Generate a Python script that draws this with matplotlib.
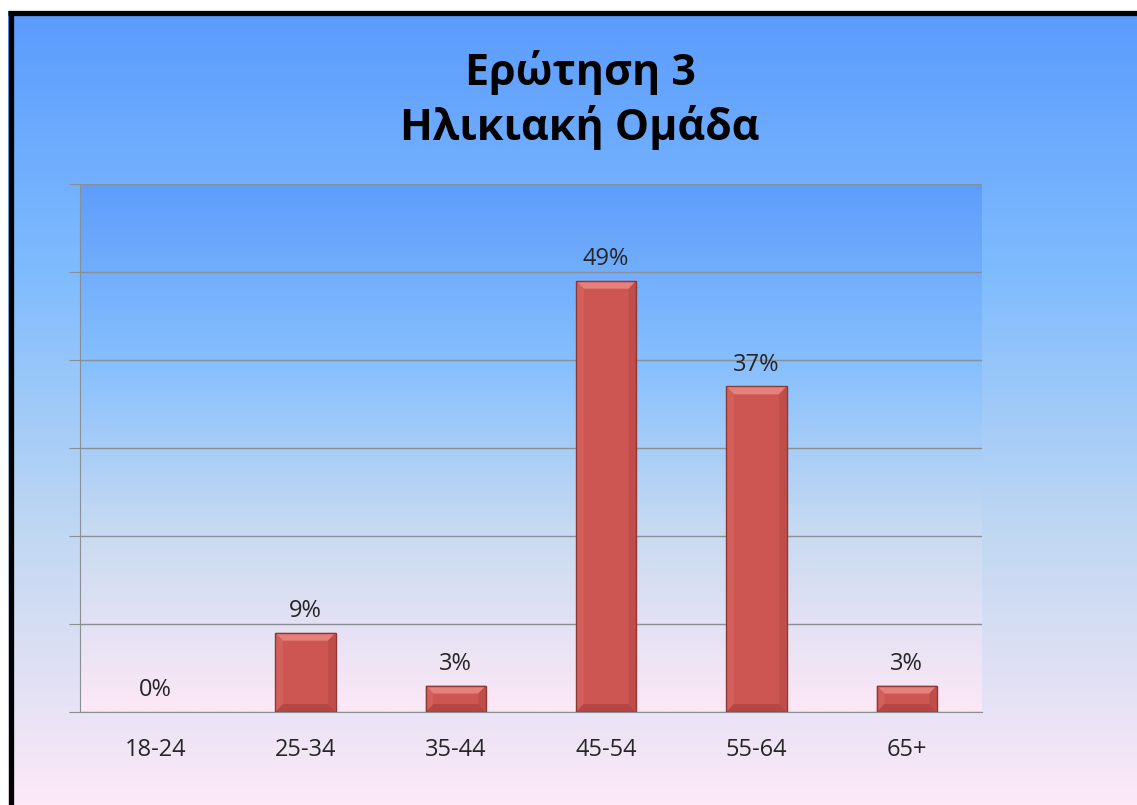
import numpy as np
import matplotlib
matplotlib.use('Agg')
import matplotlib.pyplot as plt
from matplotlib.colors import LinearSegmentedColormap
from matplotlib.patches import Polygon

plt.rcParams['font.family'] = ['Open Sans', 'DejaVu Sans']

# data
categories = ['18-24', '25-34', '35-44', '45-54', '55-64', '65+']
values = [0, 9, 3, 49, 37, 3]
title_lines = ['Ερώτηση 3', 'Ηλικιακή Ομάδα']

W, H = 1137, 805
fig = plt.figure(figsize=(W / 100, H / 100), dpi=100)
fig.patch.set_facecolor('white')

# background gradient (chart area)
bg_cmap = LinearSegmentedColormap.from_list(
    'bg', ['#5b9bfd', '#7fbcfe', '#c2d8f2', '#fde9f7'])
bg = fig.add_axes([8 / W, 0, 1 - 8 / W, (H - 11) / H], zorder=0)
bg.imshow(np.linspace(0, 1, 256).reshape(-1, 1), cmap=bg_cmap, aspect='auto',
          extent=[0, 1, 0, 1], origin='upper')
bg.set_axis_off()

# black frame (top and left)
fig.add_artist(plt.Line2D([8 / W, 1], [(H - 13.5) / H] * 2, color='black',
                          lw=3.8, solid_capstyle='butt',
                          transform=fig.transFigure, zorder=5))
fig.add_artist(plt.Line2D([10.5 / W] * 2, [0, (H - 11) / H], color='black',
                          lw=3.8, solid_capstyle='butt',
                          transform=fig.transFigure, zorder=5))

# plot area
ax = fig.add_axes([80 / W, (H - 712) / H, 902 / W, 528 / H], zorder=2)
pa_cmap = LinearSegmentedColormap.from_list(
    'pa', ['#5e9dfc', '#85bffe', '#c9dbf1', '#fde8f6'])
ax.imshow(np.linspace(0, 1, 256).reshape(-1, 1), cmap=pa_cmap, aspect='auto',
          extent=[0, 1, 0, 1], origin='upper', transform=ax.transAxes, zorder=0)

x = np.arange(len(categories))
bw = 0.4
bars = ax.bar(x, values, width=bw, color='#cd5652', linewidth=0, zorder=3)

# bevel highlights
bev_x = 0.05
bev_y = 0.9
for b, v in zip(bars, values):
    if v <= 0:
        continue
    x0, x1 = b.get_x(), b.get_x() + b.get_width()
    top = b.get_height()
    by = min(bev_y, top / 2)
    ax.add_patch(Polygon([(x0, top), (x1, top), (x1 - bev_x, top - by),
                          (x0 + bev_x, top - by)], closed=True,
                         facecolor='#e4817c', edgecolor='none', zorder=4))
    ax.add_patch(Polygon([(x0, top), (x0 + bev_x, top - by),
                          (x0 + bev_x, by), (x0, 0)], closed=True,
                         facecolor='#d4605c', edgecolor='none', zorder=4))
    ax.add_patch(Polygon([(x1, top), (x1 - bev_x, top - by),
                          (x1 - bev_x, by), (x1, 0)], closed=True,
                         facecolor='#c04d4a', edgecolor='none', zorder=4))
    ax.add_patch(Polygon([(x0, 0), (x0 + bev_x, by), (x1 - bev_x, by),
                          (x1, 0)], closed=True,
                         facecolor='#b44643', edgecolor='none', zorder=4))
    ax.add_patch(plt.Rectangle((x0, 0), x1 - x0, top, fill=False,
                               edgecolor='#8c3836', lw=1.0, zorder=5))

for xi, v in zip(x, values):
    ax.annotate(f'{v}%', (xi, v), xytext=(0, 7), textcoords='offset points',
                ha='center', va='bottom', fontsize=17, color='#262626', zorder=6)

ax.set_xlim(-0.5, len(categories) - 0.5)
ax.set_ylim(0, 60)
ax.set_yticks(np.arange(0, 61, 10))
ax.yaxis.grid(True, color='#8a8f96', lw=1.0)
ax.set_axisbelow(True)
ax.tick_params(axis='y', length=8, color='#8a8f96', labelleft=False)
ax.set_xticks(x)
ax.set_xticklabels(categories, fontsize=17, color='#262626')
ax.tick_params(axis='x', length=0, pad=19)
for s in ['top', 'right']:
    ax.spines[s].set_visible(False)
for s in ['left', 'bottom']:
    ax.spines[s].set_color('#8a8f96')
ax.set_facecolor('none')

fig.text(580 / W, (H - 100) / H, '\n'.join(title_lines), ha='center',
         va='center', fontsize=31, fontweight='bold', color='black',
         linespacing=1.3, zorder=6)

fig.savefig('out.png', dpi=100)
